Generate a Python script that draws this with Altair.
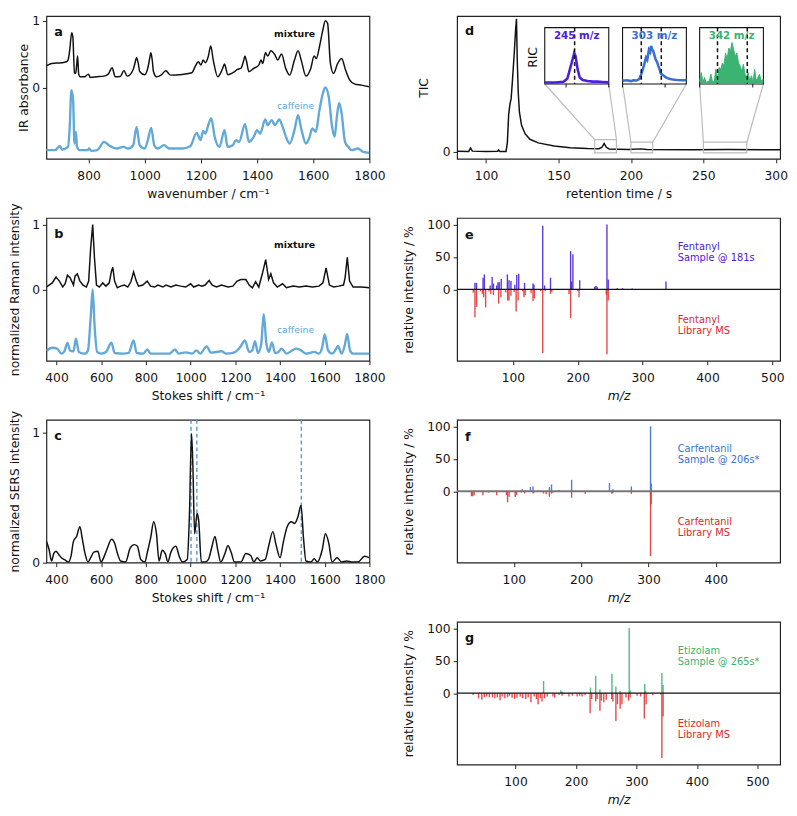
import altair as alt
import pandas as pd

FONT = "DejaVu Sans"
INK = "#111111"
CAFFEINE = "#62a9d8"
SERS_MARK = "#4a90d9"
ZOOM_GREY = "#bbbbbb"
FENT = "#4b20dc"
CARF = "#3a6fd6"
ETIZ = "#3bb371"
LIB = "#e02828"

# ---------------- a: IR spectra (wavenumber, absorbance) ----------------
ir_mixture = [(648,0.32),(669,0.36),(704,0.37),(721,0.385),(727,0.41),(733,0.56),(740,0.82),(744,0.76),
    (750,0.22),(754,0.21),(757,0.30),(761,0.47),(765,0.20),(770,0.16),(785,0.16),(800,0.20),(806,0.15),
    (830,0.16),(855,0.17),(870,0.20),(884,0.295),(895,0.16),(913,0.165),(926,0.25),(938,0.17),(959,0.27),
    (965,0.36),(971,0.445),(977,0.36),(982,0.24),(1000,0.19),(1012,0.31),(1017,0.42),(1022,0.52),(1027,0.40),
    (1031,0.24),(1042,0.16),(1058,0.185),(1075,0.25),(1092,0.185),(1133,0.195),(1168,0.22),(1179,0.31),
    (1191,0.385),(1200,0.335),(1208,0.41),(1216,0.37),(1226,0.46),(1235,0.62),(1244,0.41),(1260,0.16),
    (1277,0.28),(1284,0.35),(1290,0.27),(1295,0.19),(1319,0.235),(1330,0.27),(1342,0.285),(1352,0.40),
    (1357,0.47),(1362,0.40),(1371,0.235),(1388,0.285),(1406,0.335),(1414,0.41),(1420,0.36),(1430,0.52),
    (1438,0.47),(1449,0.55),(1464,0.485),(1473,0.41),(1487,0.50),(1502,0.285),(1516,0.185),(1533,0.41),
    (1546,0.55),(1557,0.41),(1574,0.17),(1591,0.285),(1603,0.47),(1611,0.435),(1622,0.61),(1634,0.86),
    (1643,1.0),(1651,0.96),(1661,0.36),(1672,0.21),(1687,0.36),(1701,0.435),(1715,0.26),(1730,0.11),
    (1748,0.05),(1771,0.035),(1800,0.01)]
ir_caffeine = [(648,-0.94),(681,-0.94),(698,-0.875),(706,-0.93),(727,-0.89),(733,-0.59),(739,-0.04),
    (745,-0.19),(750,-0.84),(755,-0.665),(759,-0.89),(768,-0.94),(797,-0.94),(802,-0.915),(810,-0.95),
    (831,-0.94),(855,-0.815),(872,-0.865),(901,-0.915),(924,-0.89),(941,-0.915),(959,-0.865),(971,-0.59),
    (982,-0.865),(1000,-0.915),(1011,-0.79),(1023,-0.605),(1034,-0.865),(1046,-0.915),(1069,-0.865),
    (1087,-0.915),(1133,-0.915),(1162,-0.88),(1185,-0.68),(1199,-0.79),(1208,-0.65),(1216,-0.69),
    (1228,-0.54),(1237,-0.465),(1249,-0.74),(1266,-0.89),(1284,-0.64),(1295,-0.89),(1313,-0.865),
    (1325,-0.79),(1336,-0.815),(1357,-0.55),(1371,-0.815),(1388,-0.74),(1400,-0.64),(1411,-0.69),
    (1429,-0.48),(1438,-0.565),(1452,-0.49),(1464,-0.565),(1479,-0.48),(1491,-0.59),(1505,-0.765),
    (1516,-0.84),(1533,-0.64),(1546,-0.415),(1557,-0.615),(1574,-0.84),(1585,-0.765),(1597,-0.615),
    (1609,-0.665),(1622,-0.34),(1634,-0.09),(1643,0.0),(1655,-0.14),(1667,-0.59),(1676,-0.74),
    (1684,-0.44),(1692,-0.23),(1701,-0.39),(1713,-0.815),(1725,-0.89),(1736,-0.94),(1759,-0.915),
    (1777,-0.965),(1800,-0.98)]

# ---------------- b: Raman spectra (Stokes shift, intensity) ----------------
raman_mixture = [(355,0.036),(367,0.066),(381,0.1),(398,0.19),(413,0.127),(428,0.036),(439,0.086),
    (449,0.218),(461,0.178),(476,0.066),(483,0.203),(493,0.239),(505,0.127),(519,0.066),(534,0.036),
    (544,0.127),(553,0.635),(562,1.0),(570,0.482),(579,0.066),(592,0.036),(607,0.1),(621,0.05),(636,0.1),
    (646,0.28),(652,0.34),(660,0.127),(672,0.025),(687,0.05),(704,0.066),(719,0.036),(733,0.117),
    (745,0.269),(757,0.127),(767,0.05),(786,0.066),(806,0.127),(821,0.05),(839,0.036),(854,0.066),
    (876,0.036),(890,0.066),(912,0.036),(934,0.066),(956,0.05),(978,0.036),(1000,0.086),(1014,0.036),
    (1036,0.066),(1050,0.05),(1065,0.066),(1083,0.137),(1097,0.066),(1116,0.036),(1138,0.066),
    (1167,0.036),(1189,0.05),(1208,0.127),(1225,0.152),(1247,0.152),(1262,0.066),(1276,0.025),
    (1291,0.117),(1305,0.036),(1320,0.228),(1336,0.457),(1349,0.152),(1359,0.239),(1371,0.1),
    (1388,0.036),(1411,0.086),(1429,0.025),(1458,0.05),(1487,0.036),(1516,0.05),(1545,0.036),
    (1574,0.05),(1592,0.1),(1606,0.33),(1621,0.066),(1640,0.036),(1662,0.05),(1684,0.066),(1691,0.178),
    (1701,0.492),(1711,0.127),(1727,0.036),(1764,0.036),(1800,0.025)]
raman_caffeine = [(355,-0.95),(381,-0.9),(403,-0.914),(422,-0.99),(436,-0.95),(449,-0.825),(461,-0.944),
    (476,-0.954),(487,-0.761),(500,-0.964),(527,-0.99),(541,-0.94),(553,-0.43),(562,0.0),(570,-0.533),
    (582,-0.964),(599,-0.99),(621,-0.964),(646,-0.822),(660,-0.98),(701,-0.99),(723,-0.98),(745,-0.787),
    (759,-0.98),(789,-0.99),(806,-0.924),(821,-0.99),(905,-0.99),(930,-0.924),(946,-0.99),(978,-0.97),
    (1007,-0.99),(1026,-0.94),(1043,-0.99),(1072,-0.878),(1091,-0.975),(1138,-0.954),(1160,-0.99),
    (1196,-0.97),(1222,-0.888),(1243,-0.787),(1262,-0.964),(1276,-0.94),(1288,-0.797),(1301,-0.98),
    (1316,-0.838),(1327,-0.381),(1339,-0.838),(1350,-0.964),(1364,-0.817),(1378,-0.98),(1393,-0.964),
    (1407,-0.914),(1429,-0.99),(1451,-0.95),(1473,-0.914),(1494,-0.94),(1516,-0.99),(1553,-0.964),
    (1574,-0.99),(1589,-0.888),(1600,-0.695),(1615,-0.94),(1633,-0.99),(1647,-0.94),(1659,-0.873),
    (1676,-0.99),(1691,-0.838),(1700,-0.685),(1713,-0.94),(1727,-0.99),(1800,-0.99)]

# ---------------- c: SERS spectrum ----------------
sers = [(355,0.164),(367,0.101),(378,0.013),(388,0.071),(398,0.088),(410,0.063),(422,0.038),(439,0.02),
    (454,0.005),(465,0.05),(476,0.164),(490,0.202),(505,0.277),(515,0.189),(527,0.076),(541,0.005),
    (553,0.038),(567,0.081),(585,0.088),(599,0.005),(614,0.05),(628,0.113),(646,0.181),(660,0.151),
    (672,0.076),(687,0.013),(709,0.005),(730,0.113),(748,0.139),(762,0.126),(777,0.025),(796,0.005),
    (806,0.076),(821,0.189),(835,0.315),(847,0.227),(859,0.013),(873,0.096),(888,0.063),(898,0.005),
    (912,0.081),(934,0.126),(949,0.05),(963,0.005),(985,0.025),(995,0.378),(1004,0.995),(1010,0.756),
    (1018,0.222),(1029,0.378),(1036,0.327),(1048,0.005),(1065,0.005),(1080,0.025),(1094,0.113),
    (1109,0.202),(1121,0.101),(1135,0.005),(1152,0.063),(1167,0.13),(1182,0.076),(1196,0.005),
    (1225,0.005),(1247,0.071),(1269,0.055),(1283,0.005),(1298,0.038),(1312,0.013),(1334,0.025),
    (1349,0.126),(1368,0.239),(1382,0.139),(1400,0.038),(1414,0.151),(1432,0.277),(1451,0.315),
    (1465,0.302),(1480,0.353),(1494,0.441),(1505,0.189),(1516,0.013),(1538,0.005),(1553,0.03),
    (1567,0.005),(1589,0.101),(1603,0.222),(1618,0.151),(1633,0.005),(1655,0.038),(1676,0.005),
    (1698,0.013),(1720,0.005),(1749,0.005),(1778,0.05),(1800,0.038)]
sers_marks = [1002, 1028, 1495]

# ---------------- d: TIC and RIC insets ----------------
tic = [(80,0.005),(88,0.004),(89.3,0.03),(90.5,0.006),(100,0.004),(108,0.005),(108.6,0.015),(109.5,0.004),
    (113.8,0.004),(114.7,0.07),(115.6,0.28),(116.5,0.36),(117.3,0.40),(118.3,0.55),(119.5,0.75),
    (120.4,0.92),(121,1.0),(121.5,0.7),(122.2,0.45),(123,0.30),(124.5,0.20),(127,0.135),(130.3,0.095),
    (136,0.068),(147,0.045),(158,0.032),(170,0.025),(178,0.024),(180,0.035),(181.5,0.063),(183,0.035),
    (185,0.022),(198,0.019),(207,0.023),(211,0.019),(242,0.016),(267,0.019),(303,0.016)]
zoom_t0 = [175, 200, 250]
zoom_t1 = [190, 215, 280]
zoom_top = [0.093, 0.073, 0.073]
zoom_bottom = -0.007
ric_labels = ["245 m/z", "303 m/z", "342 m/z"]
ric_colors = [FENT, CARF, ETIZ]
ric_245 = [(175,0.01),(177.5,0.01),(179.4,0.024),(180.3,0.08),(180.9,0.25),(181.5,0.42),(181.9,0.54),
    (182.2,0.49),(182.7,0.25),(183.2,0.10),(183.9,0.055),(185,0.035),(186.2,0.025),(187.3,0.025),
    (188.5,0.02),(190,0.012)]
ric_303 = [(200,0.04),(201,0.05),(202,0.035),(202.5,0.05),(203.3,0.045),(203.9,0.07),(204.4,0.16),
    (205,0.31),(205.5,0.46),(205.8,0.42),(206.2,0.6),(206.5,0.56),(206.7,0.67),(207,0.6),(207.2,0.58),
    (207.5,0.5),(207.8,0.42),(208.1,0.38),(208.4,0.31),(208.7,0.25),(209,0.17),(209.4,0.15),(209.7,0.13),
    (210.2,0.1),(210.8,0.08),(211.5,0.07),(212.3,0.06),(213,0.055),(214,0.05),(215,0.05)]
ric_342 = [(250,0.04),(250.8,0.19),(251.5,0.01),(252.3,0.10),(253.0,0.01),(254.6,0.04),(255.3,0.16),
    (256.1,0.01),(256.9,0.04),(257.6,0.25),(258.4,0.02),(259.1,0.28),(259.9,0.25),(260.7,0.36),
    (261.4,0.31),(262.2,0.54),(262.9,0.42),(263.7,0.63),(264.5,0.57),(265.2,0.73),(266.0,0.60),
    (266.8,0.48),(267.5,0.54),(268.3,0.36),(269.0,0.31),(269.8,0.22),(270.6,0.34),(271.3,0.16),
    (272.1,0.10),(272.8,0.19),(273.6,0.04),(274.4,0.13),(275.1,0.02),(275.9,0.25),(276.6,0.04),
    (278.2,0.16),(278.9,0.04),(280,0.07)]
ric_dash = [[182], [204.4, 209.1], [258.4, 272.4]]
ric_ticks = [[180, 190], [200, 210], [250, 275]]

# ---------------- e-g: mass spectra (m/z, relative intensity %) ----------------
fent_sample = [(41.5,10),(44,10),(54,18),(56,23),(65,6),(68,19),(70,9),(75,6),(77,11),(79,11),(82,16),
    (91.5,23),(94,14),(97,13),(103,7),(106,22),(109,24),(118,10),(131,9),(132.5,7),(146,98),(149,6),
    (158,18),(189,59),(190.5,12),(192.5,54),(203,14),(226,4),(228,5),(230,4),(245,100),(247,15),
    (261,2),(269,2),(284,1.5),(336,12)]
fent_library = [(39,-5),(41.5,-43),(44,-27),(50,-3),(53,-7),(55,-12),(58,-28),(63,-3),(66,-7),(70,-9),
    (78,-22),(81.5,-12),(89,-5),(92,-17),(94,-17),(97,-10),(102,-4),(105,-34),(108,-17),(115,-3),
    (117,-12),(119,-9),(128,-6),(131,-18),(133,-14),(143,-3),(146,-98),(150,-3),(158,-7),(160,-4),
    (186.5,-7),(189,-44),(200,-3),(202,-12),(244,-8),(245,-100),(247,-17)]
carf_sample = [(112.5,3),(117,1.5),(124.6,6.5),(128.5,7.5),(152.8,6.5),(156,10.6),(167,1.5),(185.8,17.7),
    (242,12.6),(247,3),(274.5,7.5),(303,100),(304,12)]
carf_library = [(37,-7.6),(39,-7.6),(41,-6),(54,-6),(62.5,-2),(74.6,-6),(89,-6),(90.7,-17),(93,-8.6),
    (102,-9),(104,-6),(111,-2),(116,-3.5),(128.5,-3.5),(130,-2),(144,-3.5),(148,-4.5),(152.8,-8.6),
    (156,-3.5),(158,-2),(185.8,-10),(206,-4),(245.4,-4),(247,-3),(274.5,-4),(303,-100),(304,-20),
    (335,-1)]
etiz_sample = [(146.5,18.7),(175,4.5),(177,2),(224,8.6),(232.6,27),(239.6,6),(259.5,30),(266,10),
    (273,3.5),(288,100),(289.6,4.5),(313.7,14),(315,3.5),(342,31),(344,12.6)]
etiz_library = [(30,-3),(39,-8),(44.4,-10),(48.7,-6.5),(52.5,-5),(56.8,-6.5),(62,-6.5),(66,-8),(70,-6.5),
    (74.5,-11),(78,-5),(82.5,-8),(86.9,-6.5),(90,-4),(94.4,-7),(98.7,-9),(102.5,-7),(107.8,-5),(112,-8),
    (117,-9),(121,-6.5),(125.6,-14),(131,-5),(134.7,-9),(137.4,-17),(141,-8),(143.9,-13),(148,-8),
    (152.5,-5),(162,-5),(165,-7),(172,-3),(177,-4),(180,-1.5),(188.5,-5),(194,-4),(202,-5),(206,-4),
    (210,-5),(215,-3),(223.4,-31),(226,-9),(232.6,-13),(235,-9),(239.6,-27),(242,-11.6),(246,-14),
    (250,-10),(259,-9),(261,-13),(266,-43),(268.6,-17),(273,-24),(276,-17),(282.6,-6.5),(286.9,-11.6),
    (289.6,-6.5),(301,-4),(306.8,-5),(313,-39),(316,-17),(327,-3),(340,-2),(342,-100),(344,-36)]

# ---------------- layout ----------------
LW, RW, H = 328, 328, 145


def axis_x(title, values, italic=False):
    return alt.Axis(title=title, values=values, format="d", tickSize=4, labelPadding=7, titlePadding=6,
                    labelFlush=False, labelOverlap=False,
                    titleFontStyle="italic" if italic else "normal")


def axis_y(title, values, pad):
    return alt.Axis(title=title, values=values, format="d", tickSize=4, labelPadding=3, titlePadding=pad,
                    labelFlush=False, labelOverlap=False)


def label(txt, x, y, color=INK, size=10.0, weight="normal", align="left", angle=0):
    return (alt.Chart(pd.DataFrame({"t": [txt]}))
            .mark_text(color=color, fontSize=size, fontWeight=weight, align=align,
                       baseline="middle", angle=angle, font=FONT)
            .encode(text="t:N", x=alt.value(x), y=alt.value(y)))


def curve(data, X, Y, color, width, interp):
    df = pd.DataFrame(data, columns=["x", "y"])
    return (alt.Chart(df)
            .mark_line(color=color, strokeWidth=width, interpolate=interp, clip=True)
            .encode(x=X, y=Y))


def qscale(dom):
    return alt.Scale(domain=dom, nice=False, zero=False)


# a
Xa = alt.X("x:Q", scale=qscale([650, 1800]),
           axis=axis_x("wavenumber / cm⁻¹", [800, 1000, 1200, 1400, 1600, 1800]))
Ya = alt.Y("y:Q", scale=qscale([-1.07, 1.07]), axis=axis_y("IR absorbance", [0, 1], 1))
panel_a = alt.layer(
    curve(ir_mixture, Xa, Ya, INK, 1.5, "monotone"),
    curve(ir_caffeine, Xa, Ya, CAFFEINE, 2.4, "monotone"),
    label("a", 8, 16, size=13, weight="bold"),
    label("mixture", 252, 18, size=9.5, weight="bold", align="center"),
    label("caffeine", 253, 91, color=CAFFEINE, size=9.5, align="center"),
).properties(width=LW, height=H)

# b
raman_ticks = [400, 600, 800, 1000, 1200, 1400, 1600, 1800]
Xb = alt.X("x:Q", scale=qscale([355, 1800]), axis=axis_x("Stokes shift / cm⁻¹", raman_ticks))
Yb = alt.Y("y:Q", scale=qscale([-1.1, 1.1]), axis=axis_y("normalized Raman intensity", [0, 1], 10))
panel_b = alt.layer(
    curve(raman_mixture, Xb, Yb, INK, 1.5, "linear"),
    curve(raman_caffeine, Xb, Yb, CAFFEINE, 2.4, "monotone"),
    label("b", 8, 16, size=13, weight="bold"),
    label("mixture", 252, 27, size=9.5, weight="bold", align="center"),
    label("caffeine", 253, 114, color=CAFFEINE, size=9.5, align="center"),
).properties(width=LW, height=H)

# c
Xc = alt.X("x:Q", scale=qscale([355, 1800]), axis=axis_x("Stokes shift / cm⁻¹", raman_ticks))
Yc = alt.Y("y:Q", scale=qscale([0, 1.1]), axis=axis_y("normalized SERS intensity", [0, 1], 10))
sers_rules = (alt.Chart(pd.DataFrame({"x": sers_marks}))
              .mark_rule(color=SERS_MARK, strokeWidth=1.3, strokeDash=[4, 3])
              .encode(x=Xc))
panel_c = alt.layer(
    sers_rules,
    curve(sers, Xc, Yc, INK, 1.5, "monotone"),
    label("c", 8, 16, size=13, weight="bold"),
).properties(width=LW, height=H)

# d
D_X = [80, 303]
D_Y = [-0.052, 1.02]


def px_x(t):
    return (t - D_X[0]) / (D_X[1] - D_X[0]) * RW


def px_y(v):
    return (D_Y[1] - v) / (D_Y[1] - D_Y[0]) * H


inset_x0 = [89, 168, 246.3]
inset_x1 = [154, 232.8, 311]
inset_top, inset_bot = 11.7, 69

Xd = alt.X("x:Q", scale=qscale(D_X), axis=axis_x("retention time / s", [100, 150, 200, 250, 300]))
Yd = alt.Y("y:Q", scale=qscale(D_Y), axis=axis_y("TIC", [0], 12))
d_layers = [curve(tic, Xd, Yd, INK, 1.5, "linear")]

zoom_df = pd.DataFrame({"t0": zoom_t0, "t1": zoom_t1, "top": zoom_top,
                        "bot": [zoom_bottom] * 3})
d_layers.append(
    alt.Chart(zoom_df).mark_rect(fillOpacity=0, stroke=ZOOM_GREY, strokeWidth=1.2).encode(
        x=alt.X("t0:Q", scale=qscale(D_X), axis=None), x2="t1:Q",
        y=alt.Y("top:Q", scale=qscale(D_Y), axis=None), y2="bot:Q"))

conn_rows = []
for i in range(3):
    conn_rows.append((px_x(zoom_t0[i]), px_y(zoom_top[i]), inset_x0[i], inset_bot))
    conn_rows.append((px_x(zoom_t1[i]), px_y(zoom_top[i]), inset_x1[i], inset_bot))
conn_df = pd.DataFrame(conn_rows, columns=["a", "b", "c", "d"])
d_layers.append(
    alt.Chart(conn_df).mark_rule(color=ZOOM_GREY, strokeWidth=1.2).encode(
        x=alt.X("a:Q", scale=None), y=alt.Y("b:Q", scale=None), x2="c:Q", y2="d:Q"))

frame_df = pd.DataFrame({"a": inset_x0, "c": inset_x1, "b": [inset_top] * 3, "d": [inset_bot] * 3})
d_layers.append(
    alt.Chart(frame_df).mark_rect(fill="white", stroke=INK, strokeWidth=1.1).encode(
        x=alt.X("a:Q", scale=None), x2="c:Q", y=alt.Y("b:Q", scale=None), y2="d:Q"))

ric_series = [ric_245, ric_303, ric_342]
for i in range(3):
    sx = alt.Scale(domain=[zoom_t0[i], zoom_t1[i]], range=[inset_x0[i], inset_x1[i]], nice=False, zero=False)
    sy = alt.Scale(domain=[0, 1], range=[inset_bot - 1, inset_top], nice=False, zero=False)
    IX = alt.X("x:Q", scale=sx, axis=None)
    IY = alt.Y("y:Q", scale=sy, axis=None)
    df = pd.DataFrame(ric_series[i], columns=["x", "y"])
    if i == 2:
        d_layers.append(alt.Chart(df).mark_area(color=ric_colors[i], opacity=1).encode(x=IX, y=IY))
        d_layers.append(alt.Chart(df).mark_line(color=ric_colors[i], strokeWidth=1).encode(x=IX, y=IY))
    else:
        d_layers.append(alt.Chart(df).mark_line(color=ric_colors[i], strokeWidth=2.6).encode(x=IX, y=IY))
    d_layers.append(
        alt.Chart(pd.DataFrame({"x": ric_dash[i]}))
        .mark_rule(color=INK, strokeWidth=1.5, strokeDash=[4, 3])
        .encode(x=IX, y=alt.value(inset_top), y2=alt.value(inset_bot)))
    d_layers.append(
        alt.Chart(pd.DataFrame({"x": ric_ticks[i]}))
        .mark_rule(color=INK, strokeWidth=1)
        .encode(x=IX, y=alt.value(inset_bot), y2=alt.value(inset_bot + 3.5)))
    d_layers.append(label(ric_labels[i], (inset_x0[i] + inset_x1[i]) / 2, inset_top + 9,
                          color=ric_colors[i], size=10.5, weight="bold", align="center"))

d_layers.append(label("RIC", 77, 42, size=12.5, align="center", angle=270))
d_layers.append(label("d", 8, 15, size=13, weight="bold"))
panel_d = (alt.layer(*d_layers)
           .resolve_scale(x="independent", y="independent")
           .properties(width=RW, height=H))


# e-g
def ms_panel(sample, library, xdom, xvals, color, name, when, letter, zero_color, zero_width):
    X = alt.X("mz:Q", scale=qscale(xdom), axis=axis_x("m/z", xvals, italic=True))
    Y = alt.Y("v:Q", scale=qscale([-110, 110]), axis=axis_y("relative intensity / %", [0, 50, 100], 11))
    sdf = pd.DataFrame(sample, columns=["mz", "v"])
    sdf["base"] = 0
    ldf = pd.DataFrame(library, columns=["mz", "v"])
    ldf["base"] = 0
    s = alt.Chart(sdf).mark_rule(color=color, strokeWidth=1.4, opacity=0.9).encode(x=X, y=Y, y2="base:Q")
    lib = alt.Chart(ldf).mark_rule(color=LIB, strokeWidth=1.4, opacity=0.85).encode(x=X, y=Y, y2="base:Q")
    z = alt.Chart(pd.DataFrame({"v": [0]})).mark_rule(color=zero_color, strokeWidth=zero_width).encode(y=Y)
    return alt.layer(
        s, lib, z,
        label(name, 224, 30, color=color, size=10),
        label("Sample @ " + when, 224, 41, color=color, size=10),
        label(name, 224, 104, color=LIB, size=10),
        label("Library MS", 224, 115, color=LIB, size=10),
        label(letter, 8, 17, size=13, weight="bold"),
    ).properties(width=RW, height=H)


panel_e = ms_panel(fent_sample, fent_library, [14, 512], [100, 200, 300, 400, 500], FENT,
                   "Fentanyl", "181s", "e", INK, 1.1)
panel_f = ms_panel(carf_sample, carf_library, [15.7, 495.5], [100, 200, 300, 400], CARF,
                   "Carfentanil", "206s*", "f", "#777777", 1.8)
panel_g = ms_panel(etiz_sample, etiz_library, [3.5, 537.5], [100, 200, 300, 400, 500], ETIZ,
                   "Etizolam", "265s*", "g", INK, 1.1)

left = alt.vconcat(panel_a, panel_b, panel_c, spacing=60, bounds="flush")
right = alt.vconcat(panel_d, panel_e, panel_f, panel_g, spacing=60, bounds="flush")

chart = (alt.hconcat(left, right, spacing=16)
         .properties(padding=0)
         .configure(font=FONT, padding=0)
         .configure_view(stroke="#222222", strokeWidth=1.2)
         .configure_axis(grid=False, domain=False, labelFont=FONT, titleFont=FONT,
                         labelFontSize=12.5, titleFontSize=12.5, labelColor=INK, titleColor=INK,
                         titleFontWeight="normal", tickColor="#222222", tickWidth=1))

chart.save("out.html", embed_options={"renderer": "svg", "actions": False})
